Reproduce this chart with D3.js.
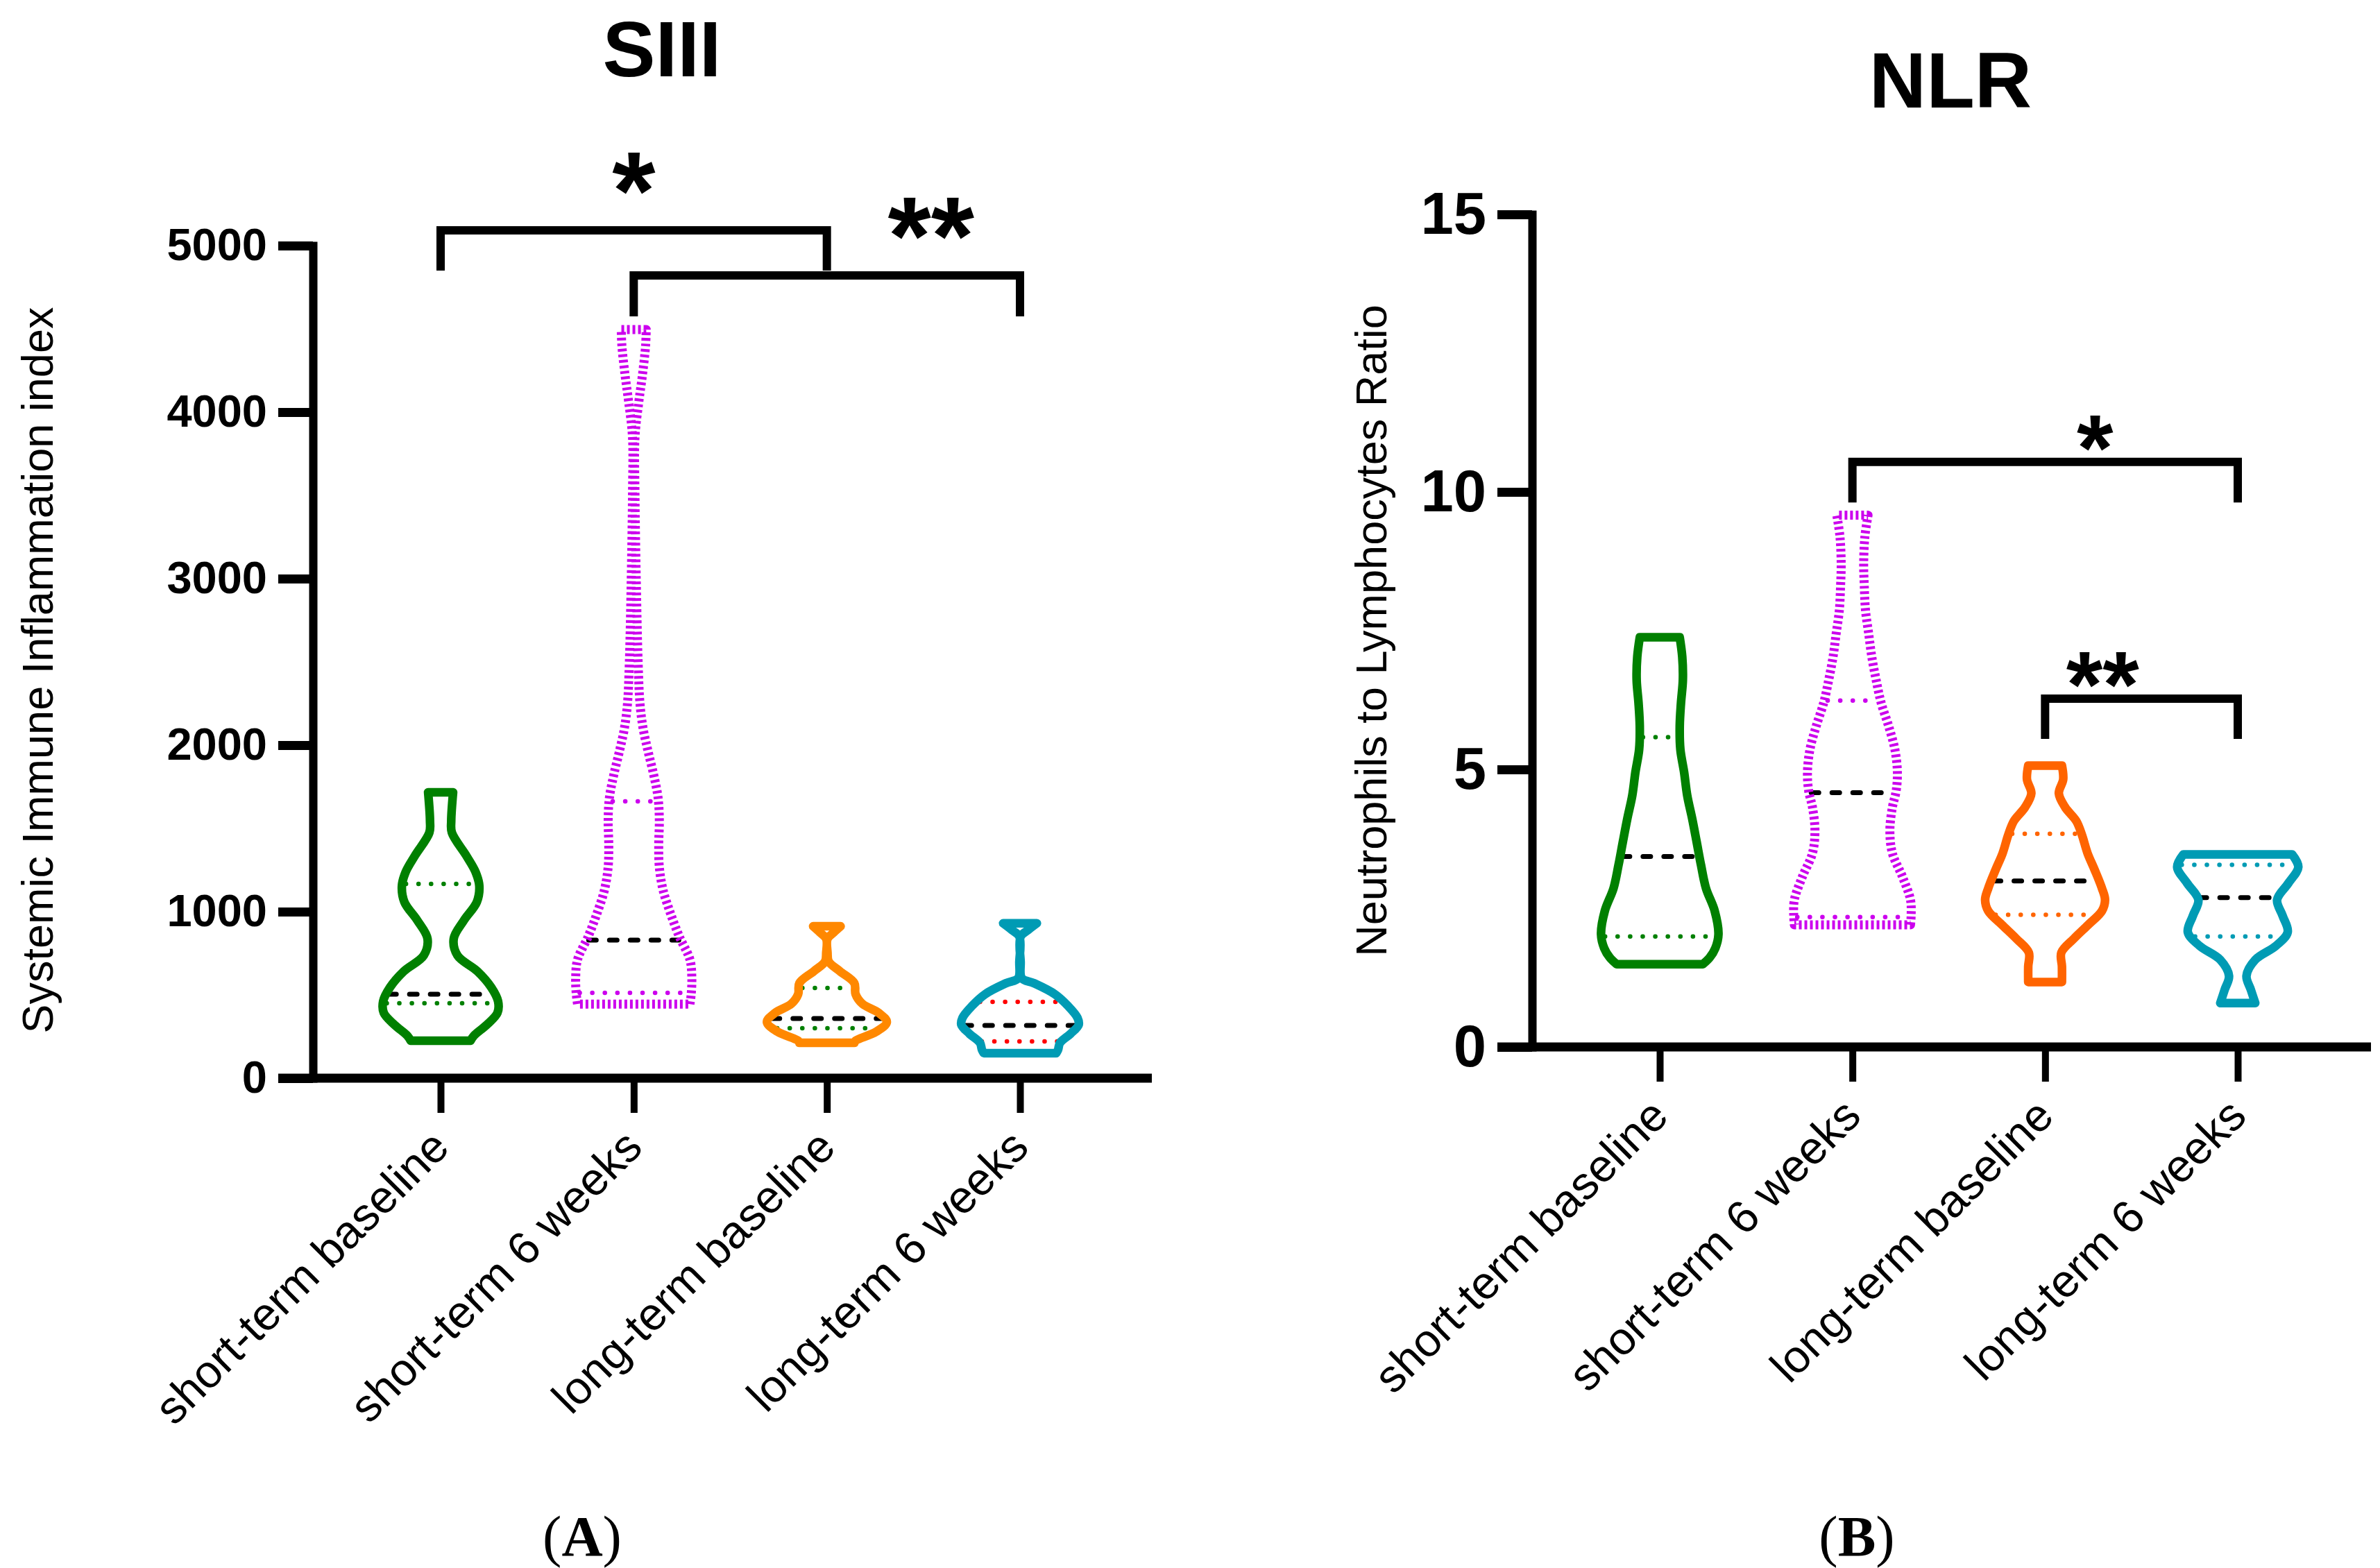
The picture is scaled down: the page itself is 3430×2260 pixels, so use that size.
<!DOCTYPE html>
<html>
<head>
<meta charset="utf-8">
<script src="https://cdn.jsdelivr.net/npm/d3@7"></script>
<style>
	body { margin: 0; background: #fff; }
	svg { display: block; }
	text { font-family: "Liberation Sans", Arial, sans-serif; fill: #000; }
</style>
</head>
<body>
<script>
// ---- data ----
const groups = ['short-term baseline', 'short-term 6 weeks', 'long-term baseline', 'long-term 6 weeks'];

// panel A: SIII. violin outline as [value, relative density] from bottom to top
const siiiTicks = [0, 1000, 2000, 3000, 4000, 5000];
const siiiShapes = [
	[[225, .48], [254, .53], [321, .74], [392, .91], [462, .92], [546, .81], [642, .59], [737, .27], [838, .21],
	 [946, .37], [1058, .58], [1154, .62], [1238, .56], [1337, .41], [1475, .18], [1546, .17], [1717, .20]],
	[[445, .90], [504, .92], [600, .93], [712, .90], [850, .73], [988, .59], [1129, .47], [1267, .41], [1404, .40],
	 [1546, .41], [1683, .39], [1821, .32], [1962, .23], [2100, .15], [2250, .10], [2500, .07], [3000, .04],
	 [3500, .02], [3850, .02], [4058, .08], [4225, .14], [4400, .19], [4496, .20]],
	[[212, .44], [225, .46], [279, .79], [337, .96], [392, .83], [446, .57], [504, .46], [571, .44], [642, .21],
	 [700, .03], [754, .01], [837, .01], [875, .11], [912, .22]],
	[[150, .58], [171, .61], [212, .64], [267, .81], [321, .94], [363, .92], [433, .77], [504, .56], [571, .22],
	 [600, .03], [700, .01], [850, .01], [890, .13], [930, .27]]
];
const siiiMedian = [504, 829, 358, 317];
const siiiQ1 = [450, 512, 300, 221];
const siiiQ3 = [1167, 1662, 542, 458];
const siiiComparisons = [
	{ from: 0, to: 2, y: 5092, drop: 4850, label: '*' },
	{ from: 1, to: 3, y: 4821, drop: 4575, label: '**' }
];

// panel B: NLR
const nlrTicks = [0, 5, 10, 15];
const nlrShapes = [
	[[1.49, .69], [1.61, .80], [1.78, .89], [2.03, .94], [2.45, .88], [2.86, .74], [3.28, .66], [3.70, .59],
	 [4.11, .52], [4.53, .44], [4.95, .39], [5.36, .33], [5.78, .32], [6.20, .34], [6.61, .37], [7.03, .36], [7.38, .32]],
	[[2.20, .93], [2.36, .94], [2.65, .93], [3.07, .80], [3.49, .64], [3.90, .60], [4.32, .64], [4.61, .70],
	 [4.95, .72], [5.36, .68], [5.78, .58], [6.20, .46], [6.61, .38], [7.03, .31], [7.45, .26], [7.86, .21],
	 [8.30, .19], [8.70, .18], [9.20, .20], [9.58, .25]],
	[[1.17, .27], [1.45, .27], [1.70, .26], [1.95, .46], [2.20, .69], [2.45, .91], [2.65, .96], [2.86, .91],
	 [3.20, .79], [3.49, .68], [3.82, .59], [4.07, .50], [4.32, .32], [4.57, .22], [4.82, .29], [5.07, .27]],
	[[0.79, .28], [1.03, .21], [1.28, .14], [1.57, .28], [1.82, .61], [2.07, .80], [2.36, .72], [2.65, .63],
	 [2.95, .81], [3.24, .97], [3.47, .87]]
];
const nlrMedian = [3.43, 4.58, 2.99, 2.69];
const nlrQ1 = [1.99, 2.34, 2.38, 1.99];
const nlrQ3 = [5.58, 6.24, 3.84, 3.28];
const nlrComparisons = [
	{ from: 1, to: 3, y: 10.54, drop: 9.81, label: '*' },
	{ from: 2, to: 3, y: 6.275, drop: 5.55, label: '**' }
];

// ---- styles and layout ----
const font = '"Liberation Sans", Arial, sans-serif';
const green = '#008000', magenta = '#cc00ee', teal = '#009bb4';

const panels = [
	{
		title: 'SIII', yTitle: 'Systemic Immune Inflammation index', letter: 'A',
		ticks: siiiTicks, shapes: siiiShapes, median: siiiMedian, q1: siiiQ1, q3: siiiQ3, comps: siiiComparisons,
		outline: [green, magenta, '#ff8800', teal],
		quartile: [green, magenta, green, '#ff0000'],
		axisX: 451, yRange: [1554, 354], xRange: [635, 1470], xEnd: 1660,
		titlePos: [954, 110], yTitlePos: [76, 966], tickFont: 65,
		starFont: 160, starDy: -2, starDx: [0, 150], letterX: 839
	},
	{
		title: 'NLR', yTitle: 'Neutrophils to Lymphocytes Ratio', letter: 'B',
		ticks: nlrTicks, shapes: nlrShapes, median: nlrMedian, q1: nlrQ1, q3: nlrQ3, comps: nlrComparisons,
		outline: [green, magenta, '#ff6400', teal],
		quartile: [green, magenta, '#ff6400', teal],
		axisX: 2208, yRange: [1509, 309], xRange: [2392, 3225], xEnd: 3417,
		titlePos: [2811, 155], yTitlePos: [1998, 909], tickFont: 85,
		starFont: 135, starDy: 26, starDx: [72, -56], letterX: 2676
	}
];

const W = 3430, H = 2260;
const tickLen = 50;

const svg = d3.select('body').append('svg')
	.attr('width', W).attr('height', H)
	.attr('viewBox', [0, 0, W, H]);

// half width of a violin in px for relative density 1
const w = d3.scaleLinear().domain([0, 1]).range([0, 90]);
const curve = d3.line().curve(d3.curveCatmullRom.alpha(0.5));

function violinPath(shape, cx, y) {
	const right = shape.map(([v, d]) => [cx + w(d), y(v)]);
	const left = shape.slice().reverse().map(([v, d]) => [cx - w(d), y(v)]);
	return curve(right) + 'L' + curve(left).slice(1) + 'Z';
}

panels.forEach(p => {
	const g = svg.append('g');
	const y = d3.scaleLinear().domain(d3.extent(p.ticks)).range(p.yRange);
	const x = d3.scalePoint().domain(groups).range(p.xRange);

	// title
	g.append('text')
		.attr('x', p.titlePos[0]).attr('y', p.titlePos[1])
		.attr('text-anchor', 'middle')
		.style('font-weight', 'bold').style('font-size', '114px')
		.text(p.title);

	// y axis
	const yAxis = g.append('g')
		.attr('transform', `translate(${p.axisX},0)`)
		.call(d3.axisLeft(y).tickValues(p.ticks).tickFormat(d3.format('d'))
			.tickSize(tickLen).tickSizeOuter(0).tickPadding(16));
	yAxis.attr('font-family', null);
	yAxis.select('.domain').attr('stroke-width', 12).attr('stroke-linecap', 'square');
	yAxis.selectAll('.tick line').attr('stroke-width', 13);
	yAxis.selectAll('.tick text')
		.style('font-size', p.tickFont + 'px').style('font-weight', 'bold')
		.style('font-family', font);

	g.append('text')
		.attr('transform', `translate(${p.yTitlePos[0]},${p.yTitlePos[1]}) rotate(-90)`)
		.attr('text-anchor', 'middle')
		.style('font-size', '63px')
		.text(p.yTitle);

	// x axis
	const y0 = y(0);
	g.append('line')
		.attr('x1', p.axisX - tickLen).attr('x2', p.xEnd)
		.attr('y1', y0).attr('y2', y0)
		.attr('stroke', '#000').attr('stroke-width', 13);
	const xAxis = g.append('g')
		.attr('transform', `translate(0,${y0})`)
		.call(d3.axisBottom(x).tickSize(tickLen).tickSizeOuter(0));
	xAxis.attr('font-family', null);
	xAxis.select('.domain').remove();
	xAxis.selectAll('.tick line').attr('stroke-width', 10);
	xAxis.selectAll('.tick text')
		.attr('x', null).attr('y', null).attr('dy', null)
		.attr('transform', 'translate(15,103) rotate(-45)')
		.attr('text-anchor', 'end')
		.style('font-size', '66px')
		.style('font-family', font);

	// violins
	p.shapes.forEach((shape, i) => {
		const cx = x(groups[i]);
		const hwAt = d3.scaleLinear().domain(shape.map(d => d[0])).range(shape.map(d => d[1]));
		const span = (v, inset) => [cx - w(hwAt(v)) + inset, cx + w(hwAt(v)) - inset];

		[p.q1[i], p.q3[i]].forEach(q => {
			const [a, b] = span(q, 5);
			g.append('line')
				.attr('x1', a).attr('x2', b).attr('y1', y(q)).attr('y2', y(q))
				.attr('stroke', p.quartile[i]).attr('stroke-width', 6.5)
				.attr('stroke-linecap', 'round').attr('stroke-dasharray', '0.1 18');
		});
		const [ma, mb] = span(p.median[i], 3);
		g.append('line')
			.attr('x1', ma).attr('x2', mb).attr('y1', y(p.median[i])).attr('y2', y(p.median[i]))
			.attr('stroke', '#000').attr('stroke-width', 7)
			.attr('stroke-linecap', 'round').attr('stroke-dasharray', '11 19');

		const path = g.append('path')
			.attr('d', violinPath(shape, cx, y))
			.attr('fill', 'none')
			.attr('stroke', p.outline[i])
			.attr('stroke-linejoin', 'round');
		if (i === 1) path.attr('stroke-width', 13).attr('stroke-dasharray', '4 4');
		else path.attr('stroke-width', 12.5);
	});

	// significance brackets
	p.comps.forEach((c, k) => {
		const x1 = x(groups[c.from]), x2 = x(groups[c.to]);
		g.append('path')
			.attr('d', `M${x1},${y(c.drop)}V${y(c.y)}H${x2}V${y(c.drop)}`)
			.attr('fill', 'none').attr('stroke', '#000').attr('stroke-width', 12);
		g.append('text')
			.attr('x', (x1 + x2) / 2 + p.starDx[k]).attr('y', y(c.y) + p.starDy)
			.attr('text-anchor', 'middle')
			.style('font-size', p.starFont + 'px').style('font-weight', 'bold')
			.text(c.label);
	});

	// panel letter
	const lt = g.append('text')
		.attr('x', p.letterX).attr('y', 2242)
		.attr('text-anchor', 'middle')
		.style('font-family', '"Times New Roman", "Liberation Serif", serif')
		.style('font-size', '82px');
	lt.append('tspan').text('(');
	lt.append('tspan').style('font-weight', 'bold').text(p.letter);
	lt.append('tspan').text(')');
});
</script>
</body>
</html>
